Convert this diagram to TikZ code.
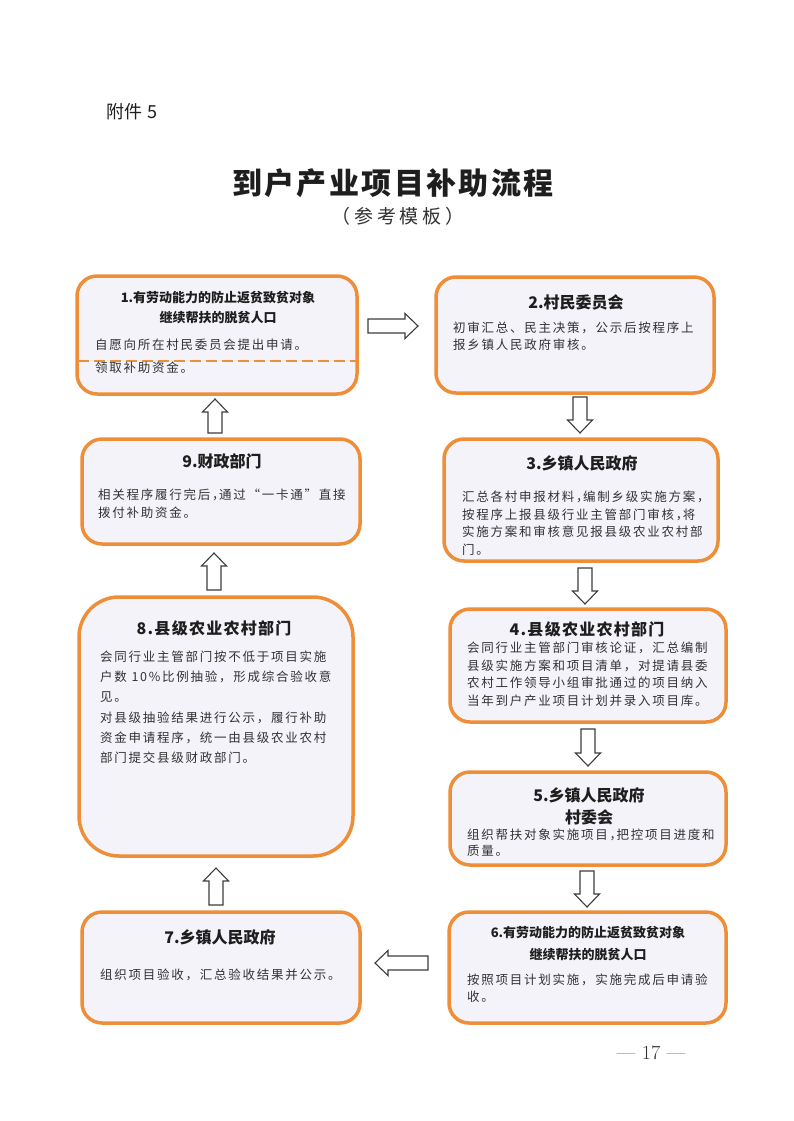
\documentclass[tikz,border=0pt]{standalone}
\usepackage{fontspec}
\newfontfamily\cjk{Noto Sans CJK SC}
\newfontfamily\cjksp[LetterSpace=14]{Noto Sans CJK SC}
\newfontfamily\cjktitle[LetterSpace=8]{Noto Sans CJK SC}
\newfontfamily\cjksub[LetterSpace=20]{Noto Sans CJK SC}
\newcommand{\cm}{，\kern-5.5pt}
\definecolor{boxorange}{RGB}{239,142,56}
\definecolor{boxfill}{RGB}{244,243,250}
\definecolor{titlecol}{RGB}{30,30,30}
\definecolor{bodycol}{RGB}{50,50,50}
\definecolor{arrowcol}{RGB}{60,60,60}
\tikzset{
  stepbox/.style={draw=boxorange, line width=3.5pt, fill=boxfill, rounded corners=20pt, inner sep=0pt, outer sep=0pt},
  boxtitle/.style={inner sep=0pt, align=center, text=titlecol, font=\cjk\bfseries\fontsize{16}{22}\selectfont},
  body/.style={anchor=north west, inner sep=0pt, align=left, text=bodycol, font=\cjksp\fontsize{12.5}{#1}\selectfont},
  arrowline/.style={draw=arrowcol, fill=white, line width=1.1pt, line join=miter},
  blockarrow/.pic={\path[arrowline] (0,-7) -- (#1-13,-7) -- (#1-13,-12.5) -- (#1,0) -- (#1-13,12.5) -- (#1-13,7) -- (0,7) -- cycle;},
  dashline/.style={draw=boxorange, line width=1.4pt, dash pattern=on 11pt off 5pt}
}
\begin{document}
\begin{tikzpicture}[x=1pt,y=-1pt]
\useasboundingbox (0,0) rectangle (793,1121);
\fill[white] (0,0) rectangle (793,1121);

% header texts
\node[inner sep=0pt, text=titlecol, font=\cjk\fontsize{18}{20}\selectfont] (hdr) at (132,112) {附件 5};
\node[inner sep=0pt, text=titlecol, font=\cjktitle\bfseries\fontsize{30}{34}\selectfont] (ttl) at (393,183) {到户产业项目补助流程};
\node[inner sep=0pt, text=bodycol, font=\cjksub\fontsize{19}{22}\selectfont] (sub) at (398,216) {（参考模板）};
\node[inner sep=0pt, text=bodycol, font=\fontsize{20}{22}\selectfont] (pg) at (651,1053) {---\,\,17\,\,---};

% boxes
\node[stepbox, minimum width=280pt, minimum height=118pt] (b1) at (217,335) {};
\node[stepbox, minimum width=278pt, minimum height=116pt] (b2) at (575,335) {};
\node[stepbox, minimum width=278pt, minimum height=105pt] (b9) at (221,491.5) {};
\node[stepbox, minimum width=274pt, minimum height=122pt] (b3) at (581,500) {};
\node[stepbox, minimum width=274pt, minimum height=259pt, rounded corners=40pt] (b8) at (216,726.5) {};
\node[stepbox, minimum width=276pt, minimum height=113pt] (b4) at (588,665.5) {};
\node[stepbox, minimum width=276pt, minimum height=93pt] (b5) at (588,818.5) {};
\node[stepbox, minimum width=277pt, minimum height=111pt] (b6) at (587.5,967.5) {};
\node[stepbox, minimum width=278pt, minimum height=111pt] (b7) at (221,967.5) {};

% dashed divider in box 1
\draw[dashline] (78,361) -- (356,361);

% titles
\node[boxtitle, font=\cjk\bfseries\fontsize{13}{20}\selectfont] (t1) at (218,308) {1.有劳动能力的防止返贫致贫对象\\继续帮扶的脱贫人口};
\node[boxtitle] (t2) at (576,302) {2.村民委员会};
\node[boxtitle] (t9) at (222,461) {9.财政部门};
\node[boxtitle] (t3) at (582,463) {3.乡镇人民政府};
\node[boxtitle, font=\cjktitle\bfseries\fontsize{16}{22}\selectfont] (t8) at (214,628) {8.县级农业农村部门};
\node[boxtitle, font=\cjktitle\bfseries\fontsize{16}{22}\selectfont] (t4) at (587,629.5) {4.县级农业农村部门};
\node[boxtitle] (t5) at (589,806) {5.乡镇人民政府\\村委会};
\node[boxtitle, font=\cjk\bfseries\fontsize{13}{22}\selectfont] (t6) at (588,944) {6.有劳动能力的防止返贫致贫对象\\继续帮扶的脱贫人口};
\node[boxtitle] (t7) at (220,937) {7.乡镇人民政府};

% bodies (y = first line centre - 6.25)
\node[body=17] (d1a) at (95,338.75) {自愿向所在村民委员会提出申请。};
\node[body=17] (d1b) at (95,361.75) {领取补助资金。};
\node[body=17] (d2) at (453,321.75) {初审汇总、民主决策，公示后按程序上\\报乡镇人民政府审核。};
\node[body=18] (d9) at (98,488.75) {相关程序履行完后\cm 通过“一卡通”直接\\拨付补助资金。};
\node[body=17.5] (d3) at (462,490.75) {汇总各村申报材料\cm 编制乡级实施方案\cm\\按程序上报县级行业主管部门审核\cm 将\\实施方案和审核意见报县级农业农村部\\门。};
\node[body=20.2] (d8) at (100,650.75) {会同行业主管部门按不低于项目实施\\户数 10\%比例抽验，形成综合验收意\\见。\\对县级抽验结果进行公示，履行补助\\资金申请程序，统一由县级农业农村\\部门提交县级财政部门。};
\node[body=17.5] (d4) at (467,642) {会同行业主管部门审核论证，汇总编制\\县级实施方案和项目清单，对提请县委\\农村工作领导小组审批通过的项目纳入\\当年到户产业项目计划并录入项目库。};
\node[body=15.5] (d5) at (467,828.75) {组织帮扶对象实施项目\cm 把控项目进度和\\质量。};
\node[body=17] (d6) at (467,973.75) {按照项目计划实施，实施完成后申请验\\收。};
\node[body=17] (d7) at (100,968.75) {组织项目验收，汇总验收结果并公示。};

% block arrows (tail point, direction, length)
\pic (a12) at (368,326) {blockarrow=50};
\pic[rotate=-90] (a23) at (580,397) {blockarrow=36};
\pic[rotate=-90] (a34) at (585,568) {blockarrow=36};
\pic[rotate=-90] (a45) at (588,729) {blockarrow=37};
\pic[rotate=-90] (a56) at (587,871) {blockarrow=36};
\pic[rotate=180] (a67) at (428,963) {blockarrow=53};
\pic[rotate=90] (a78) at (216,905) {blockarrow=37};
\pic[rotate=90] (a89) at (214,590) {blockarrow=37};
\pic[rotate=90] (a91) at (215,433) {blockarrow=34};
\end{tikzpicture}
\end{document}
